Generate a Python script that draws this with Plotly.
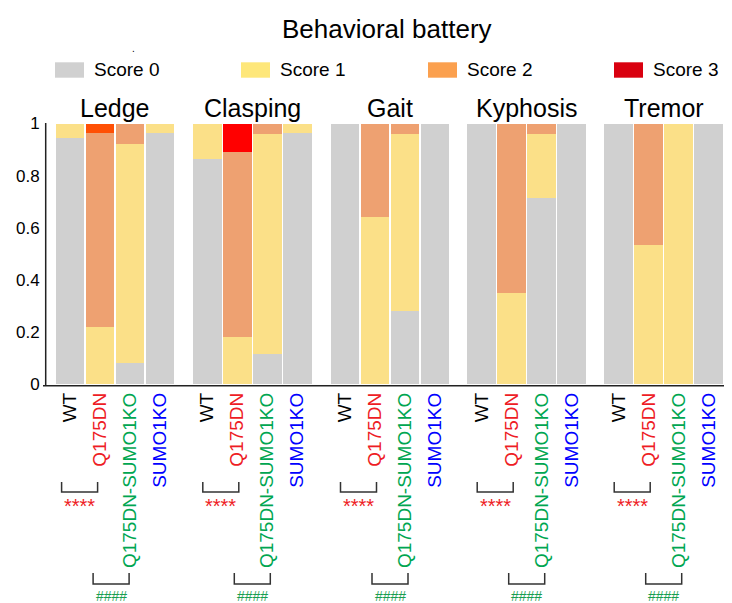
import plotly.graph_objects as go

W, H = 732, 603
OFF = 8  # page body margin offset

tests = ["Ledge", "Clasping", "Gait", "Kyphosis", "Tremor"]
groups = ["WT", "Q175DN", "Q175DN-SUMO1KO", "SUMO1KO"]
group_colors = ["#000000", "#ee1c25", "#00a651", "#0000ff"]
score_names = ["Score 0", "Score 1", "Score 2", "Score 3"]

# fraction of animals per score, per test, per group
score0 = {
    "Ledge":    [0.945, 0.0, 0.08, 0.962],
    "Clasping": [0.865, 0.0, 0.115, 0.962],
    "Gait":     [1.0, 0.0, 0.28, 1.0],
    "Kyphosis": [1.0, 0.0, 0.715, 1.0],
    "Tremor":   [1.0, 0.0, 0.0, 1.0],
}
score1 = {
    "Ledge":    [0.055, 0.22, 0.84, 0.038],
    "Clasping": [0.135, 0.18, 0.845, 0.038],
    "Gait":     [0.0, 0.64, 0.68, 0.0],
    "Kyphosis": [0.0, 0.35, 0.245, 0.0],
    "Tremor":   [0.0, 0.535, 1.0, 0.0],
}
score2 = {
    "Ledge":    [0.0, 0.745, 0.08, 0.0],
    "Clasping": [0.0, 0.71, 0.04, 0.0],
    "Gait":     [0.0, 0.36, 0.04, 0.0],
    "Kyphosis": [0.0, 0.65, 0.04, 0.0],
    "Tremor":   [0.0, 0.465, 0.0, 0.0],
}
score3 = {
    "Ledge":    [0.0, 0.035, 0.0, 0.0],
    "Clasping": [0.0, 0.11, 0.0, 0.0],
    "Gait":     [0.0, 0.0, 0.0, 0.0],
    "Kyphosis": [0.0, 0.0, 0.0, 0.0],
    "Tremor":   [0.0, 0.0, 0.0, 0.0],
}
sig_wt_vs_q175 = ["****"] * 5
sig_q175_vs_dko = ["####"] * 5
yticks = [0, 0.2, 0.4, 0.6, 0.8, 1]

# styles
bar_colors = ["#d0d0d0", "#fbe088", "#eea171"]
score3_bar_colors = ["#ff5005", "#ff0000", "#ff0000", "#ff0000", "#ff0000"]
legend_colors = ["#d0d0d0", "#fee77a", "#fba04e", "#d9000f"]
bracket_shift = [-0.13, 0.0, 0.0, 0.0, 0.0]
FONT = "Liberation Sans, Arial, sans-serif"


def px(x):
    return (x - OFF) / W


def py(y):
    return 1 - (y - OFF) / H


panel_left = [55, 192.3, 330, 466.7, 603.7]
panel_w = 120
y_bot, y_top = 384, 123.5

fig = go.Figure()
layout = dict(
    width=W, height=H, margin=dict(l=0, r=0, t=0, b=0, pad=0, autoexpand=False),
    paper_bgcolor="white", plot_bgcolor="white",
    barmode="stack", bargap=0.05, showlegend=False,
    font=dict(family=FONT, color="#000"),
)

tick_text = [f'<span style="color:{c}">{g}</span>' for g, c in zip(groups, group_colors)]
shapes = []
annotations = []

for i, t in enumerate(tests):
    xa = "x" if i == 0 else f"x{i+1}"
    ya = "y" if i == 0 else f"y{i+1}"
    series = [score0[t], score1[t], score2[t], score3[t]]
    for k, vals in enumerate(series):
        col = bar_colors[k] if k < 3 else score3_bar_colors[i]
        fig.add_trace(go.Bar(
            x=groups, y=vals, name=score_names[k], xaxis=xa, yaxis=ya,
            marker=dict(color=col, line=dict(width=0)),
            hoverinfo="name+y",
        ))
    key = "xaxis" if i == 0 else f"xaxis{i+1}"
    ykey = "yaxis" if i == 0 else f"yaxis{i+1}"
    l = panel_left[i]
    layout[key] = dict(
        domain=[px(l), px(l + panel_w)], anchor=ya, automargin=False,
        type="category", categoryorder="array", categoryarray=groups,
        range=[-0.5, 3.5], showline=False, showgrid=False, zeroline=False,
        tickmode="array", tickvals=groups, ticktext=tick_text,
        tickangle=-90, tickfont=dict(size=19, family=FONT),
        ticks="", ticklabelstandoff=4,
    )
    ycfg = dict(
        domain=[py(y_bot), py(y_top)], range=[0, 1], automargin=False,
        showgrid=False, zeroline=False, showline=False, fixedrange=True,
    )
    if i == 0:
        ycfg.update(anchor="free", position=px(45.7), tickmode="array",
                    tickvals=yticks, ticktext=[f"{v:g}" for v in yticks],
                    tickfont=dict(size=17, family=FONT), ticks="",
                    ticklabelstandoff=6)
    else:
        ycfg.update(anchor=xa, showticklabels=False, matches="y")
    layout[ykey] = ycfg

    # panel title
    annotations.append(dict(
        text=t, x=px(l + panel_w / 2), y=py(108), xref="paper", yref="paper",
        xanchor="center", yanchor="middle", showarrow=False,
        font=dict(size=25, family=FONT, color="#000"),
    ))
    # brackets (x in category index units)
    s = bracket_shift[i]
    for (a, b, ytop, ybot, txt, tcol, tsize, ty) in [
        (-0.15 + s, 1.05 + s, 482, 492, sig_wt_vs_q175[i], "#ee1c25", 20, 506),
        (0.9 + s, 2.1 + s, 573, 584, sig_q175_vs_dko[i], "#1a9e50", 14, 595.5),
    ]:
        shapes.append(dict(
            type="path", xref=xa, yref="paper",
            path=f"M {a},{py(ytop)} L {a},{py(ybot)} L {b},{py(ybot)} L {b},{py(ytop)}",
            line=dict(color="#333333", width=1.5),
        ))
        annotations.append(dict(
            text=txt, x=(a + b) / 2, y=py(ty), xref=xa, yref="paper",
            xanchor="center", yanchor="middle", showarrow=False, borderpad=0,
            font=dict(size=tsize, family=FONT, color=tcol),
        ))

# axis lines
shapes.append(dict(type="line", xref="paper", yref="paper",
                   x0=px(45.7), x1=px(45.7), y0=py(123), y1=py(385.7),
                   line=dict(color="#222222", width=1.5)))
shapes.append(dict(type="line", xref="paper", yref="paper",
                   x0=px(43), x1=1, y0=py(385.7), y1=py(385.7),
                   line=dict(color="#222222", width=1.5)))

# legend drawn manually
leg_x = [55, 241, 428, 614]
for k, name in enumerate(score_names):
    shapes.append(dict(type="rect", xref="paper", yref="paper",
                       x0=px(leg_x[k]), x1=px(leg_x[k] + 29),
                       y0=py(77.7), y1=py(62.3),
                       fillcolor=legend_colors[k], line=dict(width=0)))
    annotations.append(dict(
        text=name, x=px(leg_x[k] + 37), y=py(70), xref="paper", yref="paper",
        xanchor="left", yanchor="middle", showarrow=False,
        font=dict(size=19, family=FONT, color="#000"),
    ))

# stray dot
annotations.append(dict(text=".", x=px(133.3), y=py(48), xref="paper", yref="paper",
                        xanchor="center", yanchor="middle", showarrow=False,
                        font=dict(size=10, family=FONT, color="#000")))

# title
annotations.append(dict(
    text="Behavioral battery", x=px(386.7), y=py(29), xref="paper", yref="paper",
    xanchor="center", yanchor="middle", showarrow=False,
    font=dict(size=26, family=FONT, color="#000"),
))

layout["shapes"] = shapes
layout["annotations"] = annotations
fig.update_layout(**layout)
fig.write_html("out.html")
